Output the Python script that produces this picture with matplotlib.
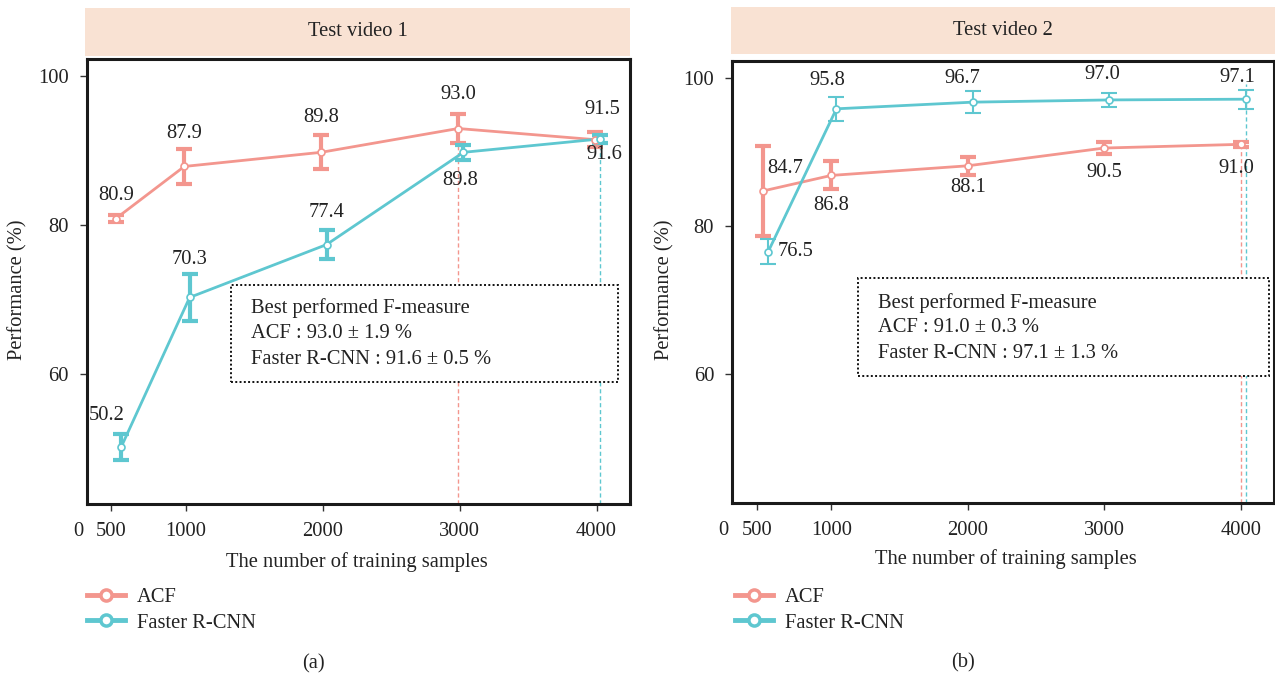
import matplotlib
matplotlib.use("Agg")
import matplotlib.pyplot as plt
from matplotlib.patches import Rectangle
from matplotlib.lines import Line2D

plt.rcParams['font.family'] = ['Liberation Serif', 'DejaVu Serif']

# ---------------- data ----------------
samples = [500, 1000, 2000, 3000, 4000]
tick_labels = ["500", "1000", "2000", "3000", "4000"]

acf_v1 = [80.9, 87.9, 89.8, 93.0, 91.5]
acf_e1 = [0.5, 2.3, 2.3, 1.9, 1.0]
frc_v1 = [50.2, 70.3, 77.4, 89.8, 91.6]
frc_e1 = [1.8, 3.2, 2.0, 1.0, 0.5]

acf_v2 = [84.7, 86.8, 88.1, 90.5, 91.0]
acf_e2 = [6.1, 1.9, 1.2, 0.8, 0.3]
frc_v2 = [76.5, 95.8, 96.7, 97.0, 97.1]
frc_e2 = [1.7, 1.6, 1.5, 1.0, 1.3]

titles = ["Test video 1", "Test video 2"]
captions = ["(a)", "(b)"]
box_lines1 = ["Best performed F-measure", "ACF : 93.0 \u00b1 1.9 %", "Faster R-CNN : 91.6 \u00b1 0.5 %"]
box_lines2 = ["Best performed F-measure", "ACF : 91.0 \u00b1 0.3 %", "Faster R-CNN : 97.1 \u00b1 1.3 %"]

ACF_C = "#F3968E"
FRC_C = "#5EC7D0"
TXT = "#222222"

W, H = 1275, 677
fig = plt.figure(figsize=(W / 100, H / 100), dpi=100)

def fr(x0, y0, x1, y1):
    # pixel box (top-left origin) -> figure rect
    return [x0 / W, 1 - y1 / H, (x1 - x0) / W, (y1 - y0) / H]

FS = 14.8
PT = 0.72  # points per pixel at dpi 100

panels = [
    dict(ax=fr(86.7, 59.3, 630, 504.3), strip=(85, 8, 630, 56),
         acf=(acf_v1, acf_e1), frc=(frc_v1, frc_e1), dodge=(-12, 27),
         acf_lw=3.0, frc_lw=3.0,
         best=(3, 4), vtop=(None, None),
         acf_off=[(0, -23), (0, -33), (0, -35), (0, -34), (7, -30)],
         frc_off=[(-15, -32), (0, -38), (0, -32), (-3, 28), (4, 16)],
         box=(231, 285, 618, 381.7), text_x=251, text_y=[308, 334, 360],
         box_lines=box_lines1, ylab_x=18, xlab=(357, 562), cap=(313, 664),
         zero_x=213, leg=(86.7, 600)),
    dict(ax=fr(732.3, 60.7, 1274, 503.3), strip=(730.6, 7, 1275, 54),
         acf=(acf_v2, acf_e2), frc=(frc_v2, frc_e2), dodge=(0, 38),
         acf_lw=3.0, frc_lw=1.5,
         best=(4, 4), vtop=(None, 99.2),
         acf_off=[(22, -22), (0, 30), (0, 22), (0, 24), (-4, 24)],
         frc_off=[(27, 0), (-9, -28), (-11, -24), (-7, -25), (-9, -22)],
         box=(858, 278.3, 1269, 375.7), text_x=878.5, text_y=[302.7, 328, 353],
         box_lines=box_lines2, ylab_x=665, xlab=(1006, 559), cap=(963, 663),
         zero_x=209, leg=(734.7, 600)),
]

for i, p in enumerate(panels):
    ax = fig.add_axes(p['ax'])
    ax.set_xlim(275, 4244)
    ax.set_ylim(42.5, 102.3)
    for s in ax.spines.values():
        s.set_linewidth(2.2)
        s.set_color("#1a1a1a")
    ax.set_yticks([60, 80, 100])
    ax.set_yticklabels(["60", "80", "100"])
    ax.set_xticks([455] + samples[1:])
    ax.set_xticklabels(tick_labels)
    ax.tick_params(axis='both', labelsize=FS, length=5, width=1.0, color="#333333",
                   labelcolor=TXT)
    ax.tick_params(axis='x', pad=8)
    ax.tick_params(axis='y', pad=8)
    ax.annotate("0", (p['zero_x'], 0), xycoords=ax.get_xaxis_transform(),
                xytext=(0, -27 * PT), textcoords='offset points',
                ha='center', va='center', fontsize=FS, color=TXT, annotation_clip=False)

    av, ae = p['acf']
    fv, fe = p['frc']
    xa = [x + p['dodge'][0] for x in samples]
    xf = [x + p['dodge'][1] for x in samples]

    # vertical dashed lines for best results
    ia, ifr = p['best']
    ax.vlines(xa[ia], 42.5, av[ia] if p['vtop'][0] is None else p['vtop'][0],
              colors=ACF_C, linestyles=(0, (3, 2)), linewidth=1.0, zorder=1)
    ax.vlines(xf[ifr], 42.5, fv[ifr] if p['vtop'][1] is None else p['vtop'][1],
              colors=FRC_C, linestyles=(0, (3, 2)), linewidth=1.0, zorder=1)

    # lines
    ax.plot(xa, av, color=ACF_C, lw=2.0, zorder=3)
    ax.plot(xf, fv, color=FRC_C, lw=2.0, zorder=3)
    # error bars
    ax.errorbar(xa, av, yerr=ae, fmt='none', ecolor=ACF_C, elinewidth=p['acf_lw'],
                capsize=5.5, capthick=p['acf_lw'], zorder=4)
    ax.errorbar(xf, fv, yerr=fe, fmt='none', ecolor=FRC_C, elinewidth=p['frc_lw'],
                capsize=5.5, capthick=p['frc_lw'], zorder=4)
    # markers
    ax.plot(xa, av, ls='none', marker='o', ms=5, mfc='white', mec=ACF_C, mew=1.2, zorder=5)
    ax.plot(xf, fv, ls='none', marker='o', ms=5, mfc='white', mec=FRC_C, mew=1.2, zorder=5)

    # value labels (offsets given in pixels, y down positive)
    for xs, vs, offs in ((xa, av, p['acf_off']), (xf, fv, p['frc_off'])):
        for x, v, (dx, dy) in zip(xs, vs, offs):
            ax.annotate(f"{v:.1f}", (x, v), xytext=(dx * PT, -dy * PT),
                        textcoords='offset points', ha='center', va='center',
                        fontsize=FS, color=TXT, zorder=6)

    # annotation box
    bx0, by0, bx1, by1 = p['box']
    fig.patches.append(Rectangle((bx0 / W, 1 - by1 / H), (bx1 - bx0) / W, (by1 - by0) / H,
                                 transform=fig.transFigure, facecolor='white',
                                 edgecolor='#111111', linestyle=(0, (1, 1.2)),
                                 linewidth=1.4, zorder=10))
    for t, ty in zip(p['box_lines'], p['text_y']):
        fig.text(p['text_x'] / W, 1 - ty / H, t, ha='left', va='center',
                 fontsize=FS, color=TXT, zorder=11)

    # strip
    sx0, sy0, sx1, sy1 = p['strip']
    fig.patches.append(Rectangle((sx0 / W, 1 - sy1 / H), (sx1 - sx0) / W, (sy1 - sy0) / H,
                                 transform=fig.transFigure, facecolor='#F9E2D3',
                                 edgecolor='none', zorder=0))
    fig.text((sx0 + sx1) / 2 / W, 1 - (sy0 + sy1) / 2 / H, titles[i], ha='center',
             va='center', fontsize=FS, color=TXT)

    # axis labels
    fig.text(p['ylab_x'] / W, 1 - 290 / H, "Performance (%)", rotation=90,
             ha='center', va='center', fontsize=FS, color=TXT)
    fig.text(p['xlab'][0] / W, 1 - p['xlab'][1] / H, "The number of training samples",
             ha='center', va='center', fontsize=FS, color=TXT)
    fig.text(p['cap'][0] / W, 1 - p['cap'][1] / H, captions[i],
             ha='center', va='center', fontsize=FS, color=TXT)

    # legend
    handles = [Line2D([], [], color=ACF_C, lw=3.5, marker='o', ms=8, mfc='white',
                      mec=ACF_C, mew=2.5),
               Line2D([], [], color=FRC_C, lw=3.5, marker='o', ms=8, mfc='white',
                      mec=FRC_C, mew=2.5)]
    lx, ly = p['leg']
    fig.legend(handles, ["ACF", "Faster R-CNN"], loc='upper left',
               bbox_to_anchor=(lx / W, 1 - (ly - 12) / H), frameon=False,
               fontsize=FS, handlelength=1.85, handletextpad=0.6, borderpad=0,
               borderaxespad=0, labelspacing=0.28, labelcolor=TXT)

fig.savefig("out.png", dpi=100)
